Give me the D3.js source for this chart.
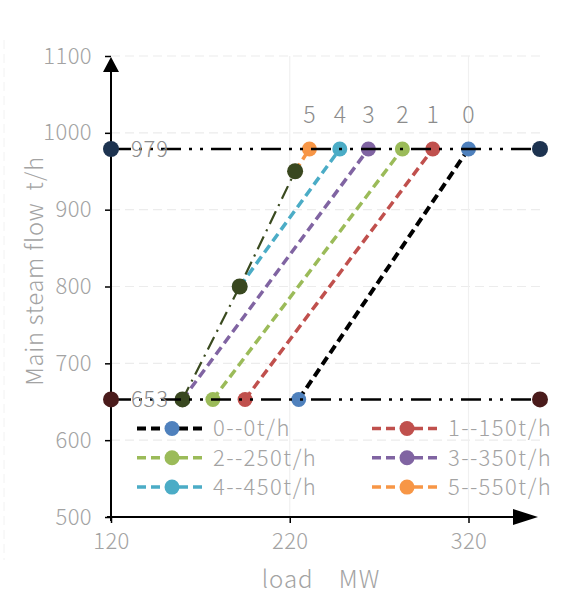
<!DOCTYPE html>
<html><head><meta charset="utf-8">
<script src="https://cdn.jsdelivr.net/npm/d3@7"></script>
<style>
html,body{margin:0;padding:0;background:#fff;}
svg{display:block;font-family:"Noto Sans CJK SC","Noto Sans",sans-serif;font-weight:300;}
</style></head>
<body><svg id="c" width="568" height="603"></svg>
<script>
// ---- data ----
const xTicks = [120, 220, 320];
const yTicks = [500, 600, 700, 800, 900, 1000, 1100];
const seriesNames = ["0--0t/h", "1--150t/h", "2--250t/h", "3--350t/h", "4--450t/h", "5--550t/h"];
const seriesLabels = ["0", "1", "2", "3", "4", "5"];
const s0x = [225, 320], s0y = [653, 979];
const s1x = [195, 300], s1y = [653, 979];
const s2x = [177, 283], s2y = [653, 979];
const s3x = [160, 264], s3y = [653, 979];
const s4x = [192, 248], s4y = [800, 979];
const s5x = [223, 231], s5y = [950, 979];
const darkX = [160, 192, 223], darkY = [653, 800, 950];
const upperX = [120, 360], upperY = [979, 979];
const lowerX = [120, 360], lowerY = [653, 653];
const refLabels = ["979", "653"];

const colors = ["#4f81bd", "#c0504d", "#9bbb59", "#8064a2", "#4bacc6", "#f79646"];
const lineColors = ["#000000", "#c0504d", "#9bbb59", "#8064a2", "#4bacc6", "#f79646"];

const svg = d3.select("#c");
const x = d3.scaleLinear().domain([120, 360]).range([111, 540]);
const y = d3.scaleLinear().domain([500, 1100]).range([517, 56]);
const grey = "#a3a3a3";

// grid
const g = svg.append("g");
g.selectAll("line.h").data(yTicks.slice(1)).join("line")
  .attr("x1", x(120)).attr("x2", x(360)).attr("y1", d => y(d)).attr("y2", d => y(d))
  .attr("stroke", "#ececec").attr("stroke-width", 1.2).attr("stroke-dasharray", "9,5");
g.selectAll("line.v").data(xTicks.slice(1)).join("line")
  .attr("x1", d => x(d)).attr("x2", d => x(d)).attr("y1", y(1100)).attr("y2", y(500))
  .attr("stroke", "#f0f0f0").attr("stroke-width", 1.2);
svg.append("line").attr("x1", 4).attr("x2", 4).attr("y1", 40).attr("y2", 560)
  .attr("stroke", "#f2f2f2").attr("stroke-dasharray", "9,5");

// axes
const yAxis = d3.axisLeft(y).tickValues(yTicks).tickFormat(d3.format("d")).tickSize(6).tickPadding(13);
const xAxis = d3.axisBottom(x).tickValues(xTicks).tickFormat(d3.format("d")).tickSize(6).tickPadding(10);
const ya = svg.append("g").attr("transform", `translate(${x(120)},0)`).call(yAxis);
const xa = svg.append("g").attr("transform", `translate(0,${y(500)})`).call(xAxis);
[ya, xa].forEach(a => {
  a.select(".domain").remove();
  a.selectAll(".tick line").attr("stroke", "#000").attr("stroke-width", 1.5);
  a.selectAll(".tick text").attr("fill", grey).attr("font-size", 22).attr("letter-spacing", 0.4)
   .attr("font-family", '"Noto Sans CJK SC","Noto Sans",sans-serif').attr("font-weight", 300);
});
svg.append("line").attr("x1", x(120)).attr("x2", x(120)).attr("y1", y(500) + 4).attr("y2", 70)
  .attr("stroke", "#000").attr("stroke-width", 2);
svg.append("path").attr("d", `M${x(120)},57 L${x(120) - 8},72 L${x(120) + 8},72 Z`).attr("fill", "#000");
svg.append("line").attr("x1", x(120) - 4).attr("x2", 520).attr("y1", y(500)).attr("y2", y(500))
  .attr("stroke", "#000").attr("stroke-width", 2);
svg.append("path").attr("d", `M538,${y(500)} L513,${y(500) - 8} L513,${y(500) + 8} Z`).attr("fill", "#000");

// axis titles
svg.append("text").attr("x", 321).attr("y", 588).attr("text-anchor", "middle")
  .attr("fill", grey).attr("font-size", 24).attr("letter-spacing", 1)
  .attr("xml:space", "preserve").text("load    MW");
svg.append("text").attr("transform", "translate(43,271) rotate(-90)").attr("text-anchor", "middle")
  .attr("fill", grey).attr("font-size", 23.5).attr("letter-spacing", 0.8)
  .attr("xml:space", "preserve").text("Main steam flow  t/h");

// series
const line = d3.line().x(d => x(d[0])).y(d => y(d[1]));
const zip = (a, b) => a.map((v, i) => [v, b[i]]);
const series = [zip(s0x, s0y), zip(s1x, s1y), zip(s2x, s2y), zip(s3x, s3y), zip(s4x, s4y), zip(s5x, s5y)];
series.forEach((pts, i) => {
  svg.append("path").attr("d", line(pts)).attr("fill", "none")
    .attr("stroke", lineColors[i]).attr("stroke-width", i === 0 ? 4 : 3.5)
    .attr("stroke-dasharray", "9,5");
});
series.forEach((pts, i) => {
  svg.selectAll(null).data(pts).join("circle")
    .attr("cx", d => x(d[0])).attr("cy", d => y(d[1])).attr("r", 7.5).attr("fill", colors[i]);
});
// top labels
series.forEach((pts, i) => {
  const top = pts[pts.length - 1];
  svg.append("text").attr("x", x(top[0])).attr("y", y(top[1]) - 26).attr("text-anchor", "middle")
    .attr("fill", "#8c8c8c").attr("font-size", 23).text(seriesLabels[i]);
});

// dark green path
const dark = zip(darkX, darkY);
svg.append("path").attr("d", line(dark)).attr("fill", "none").attr("stroke", "#3a4a1f")
  .attr("stroke-width", 2.2).attr("stroke-dasharray", "14,6,2,6");
svg.selectAll(null).data(dark).join("circle")
  .attr("cx", d => x(d[0])).attr("cy", d => y(d[1])).attr("r", 8).attr("fill", "#394820");

// reference lines
[[zip(upperX, upperY), "#1d3350"], [zip(lowerX, lowerY), "#4a1b1b"]].forEach(([pts, c], k) => {
  svg.append("path").attr("d", line(pts)).attr("fill", "none").attr("stroke", "#000")
    .attr("stroke-width", 2.5).attr("stroke-dasharray", "20,8,3,8,3,8");
  svg.selectAll(null).data(pts).join("circle")
    .attr("cx", d => x(d[0])).attr("cy", d => y(d[1])).attr("r", 8).attr("fill", c);
  svg.append("text").attr("x", x(pts[0][0]) + 20).attr("y", y(pts[0][1])).attr("dy", "0.36em")
    .attr("fill", "#8c8c8c").attr("font-size", 22).attr("letter-spacing", 0.8).text(refLabels[k]);
});

// legend
seriesNames.forEach((name, i) => {
  const col = i % 2, row = Math.floor(i / 2);
  const lx = col === 0 ? 137 : 372, ly = 428.5 + row * 29.3;
  const lg = svg.append("g");
  lg.append("line").attr("x1", lx).attr("x2", lx + 70).attr("y1", ly).attr("y2", ly)
    .attr("stroke", lineColors[i]).attr("stroke-width", i === 0 ? 4 : 3.5).attr("stroke-dasharray", "9,5");
  lg.append("circle").attr("cx", lx + 35).attr("cy", ly).attr("r", 7.5).attr("fill", colors[i]);
  lg.append("text").attr("x", lx + 76).attr("y", ly).attr("dy", "0.36em")
    .attr("fill", grey).attr("font-size", 22).attr("letter-spacing", 1.4).text(name);
});
</script></body></html>
